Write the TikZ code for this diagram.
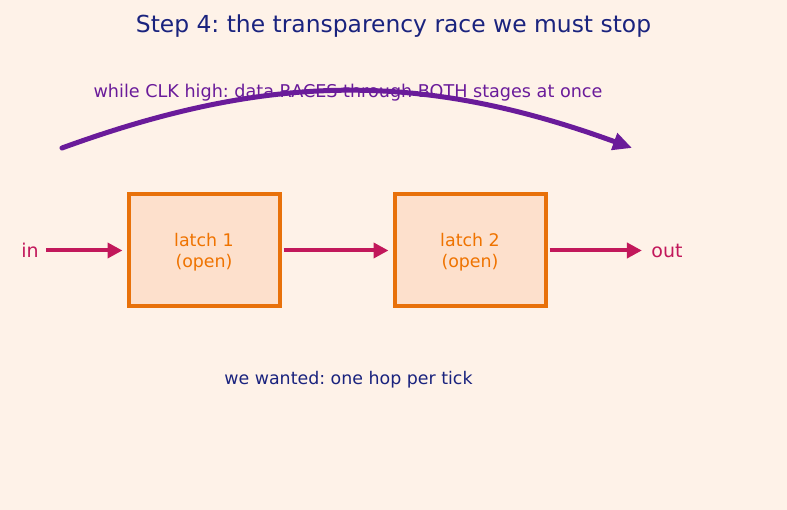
\documentclass[tikz,border=0pt]{standalone}
\usepackage{fontspec}
\setmainfont{DejaVu Sans}
\usetikzlibrary{positioning}
\usetikzlibrary{arrows.meta}

\definecolor{bgcream}{HTML}{FEF2E8}
\definecolor{latchfill}{HTML}{FDE0CC}
\definecolor{latchedge}{HTML}{E8710A}
\definecolor{latchtext}{HTML}{EF7300}
\definecolor{wirered}{HTML}{C2185B}
\definecolor{racepurple}{HTML}{6A1B9A}
\definecolor{titlenavy}{HTML}{1A237E}

\frenchspacing

\begin{document}
\begin{tikzpicture}[x=1pt, y=1pt,
        latch/.style={draw=latchedge, fill=latchfill, line width=4pt,
                      minimum width=151pt, minimum height=112pt,
                      align=center, text=latchtext, text depth=0pt,
                      font=\fontsize{17.4}{21}\selectfont},
        wire/.style={draw=wirered, line width=4pt,
                     -{Triangle[length=15pt,width=15pt]}},
        race/.style={draw=racepurple, line width=5pt, line cap=round,
                     -{Triangle[length=19pt,width=17pt]}},
        ]

        \fill [bgcream] (0,0) rectangle (787,510);
        \useasboundingbox (0,0) rectangle (787,510);

        \node (title) at (393.5,484) [text=titlenavy,
                                      font=\fontsize{23.4}{28}\selectfont,
                                      ] {Step 4: the transparency race we must stop};
        \node (racenote) at (348,417) [text=racepurple,
                                       font=\fontsize{17.6}{21}\selectfont,
                                       ] {while CLK high: data RACES through BOTH stages at once};

        \node (latch1) at (204,259.5) [latch] {latch 1\\(open)};
        \node (latch2) [latch, right=111pt of latch1] {latch 2\\(open)};

        \node (inlabel) at (30,259.5) [text=wirered,
                                       font=\fontsize{19}{23}\selectfont,
                                       ] {in};
        \node (outlabel) at (667,259.5) [text=wirered,
                                         font=\fontsize{19}{23}\selectfont,
                                         ] {out};

        \node (wanted) at (348.5,130) [text=titlenavy,
                                       font=\fontsize{17.4}{21}\selectfont,
                                       ] {we wanted: one hop per tick};

        \draw [wire, shorten <=4pt, shorten >=4pt] (inlabel) -- (latch1);
        \draw [wire, shorten <=2pt, shorten >=4pt] (latch1) -- (latch2);
        \draw [wire, shorten <=2pt, shorten >=6pt] (latch2) -- (outlabel);

        \coordinate (racestart) at (62,362);
        \coordinate (raceend) at (632,362);
        \draw [race] (racestart) to[bend left=20] (raceend);

    \end{tikzpicture}
\end{document}
